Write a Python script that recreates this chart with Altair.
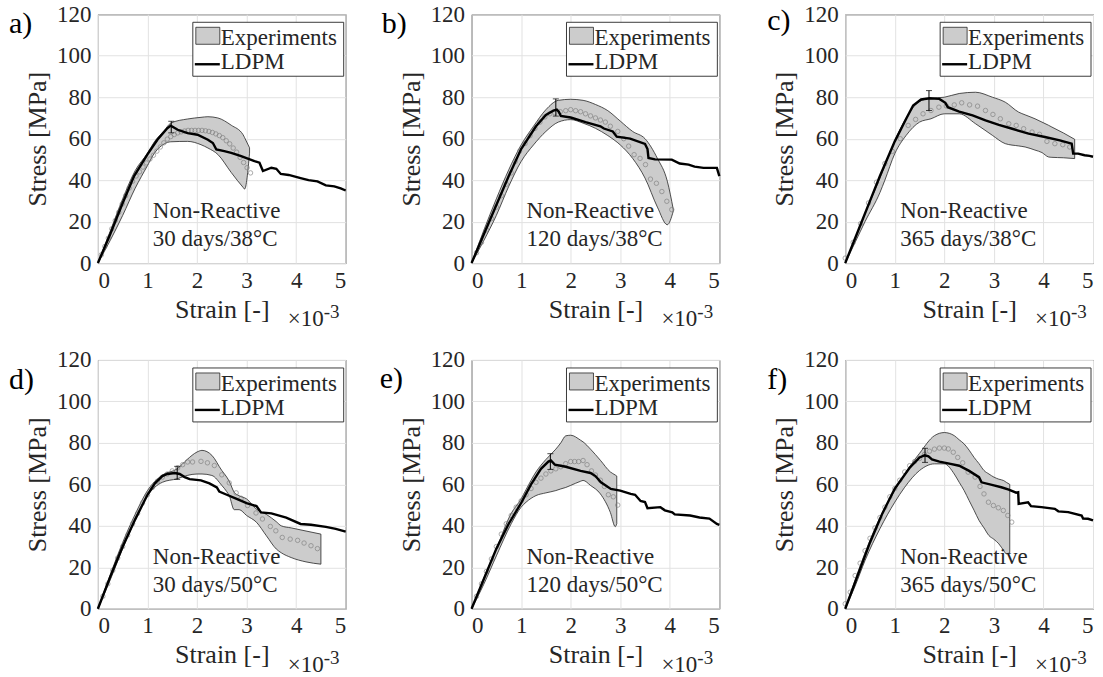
import altair as alt
import pandas as pd

# ---------------- data (strain in 1e-3, stress in MPa) ----------------
STRAIN_TICKS = [0, 1, 2, 3, 4, 5]
STRESS_TICKS = [0, 20, 40, 60, 80, 100, 120]
PANEL_LABELS = ["a)", "b)", "c)", "d)", "e)", "f)"]
CONDITION_HEAD = "Non-Reactive"
CONDITIONS = ["30 days/38\u00b0C", "120 days/38\u00b0C", "365 days/38\u00b0C",
              "30 days/50\u00b0C", "120 days/50\u00b0C", "365 days/50\u00b0C"]
LEGEND_LABELS = ["Experiments", "LDPM"]
X_TITLE = "Strain [-]"
Y_TITLE = "Stress [MPa]"
EXP_BASE = "\u00d710"
EXP_POWER = "-3"

# experimental envelope: (strain, lower, upper)
A_BAND = [(0, 0, 0), (0.25, 11, 15.5), (0.5, 23, 31), (0.75, 36, 44.5), (1.0, 47, 53),
          (1.14, 53, 58.5), (1.34, 57.5, 64), (1.47, 58.5, 67.5), (1.81, 58.7, 69.5),
          (2.08, 57.1, 70.3), (2.22, 55.5, 70.6), (2.42, 52.4, 70), (2.69, 43.7, 66.5),
          (2.93, 36.5, 61.9), (2.96, 35.7, 60.5), (3.06, 53, 55.6)]
A_MEAN = [(0.07, 4), (0.14, 8), (0.21, 12), (0.28, 16.5), (0.35, 20.5), (0.42, 24.5),
          (0.49, 28.5), (0.56, 32.5), (0.63, 36.2), (0.70, 39.5), (0.77, 42), (0.84, 44),
          (0.91, 46.3), (0.98, 48.3), (1.05, 50.2), (1.12, 52), (1.19, 54), (1.26, 56),
          (1.33, 58), (1.40, 59.8), (1.47, 61), (1.54, 62), (1.61, 62.8), (1.68, 63.3),
          (1.75, 63.7), (1.82, 64), (1.89, 64), (1.96, 64), (2.03, 64), (2.10, 64),
          (2.17, 63.8), (2.24, 63.5), (2.31, 63), (2.38, 62.3), (2.45, 61.5), (2.52, 60.5),
          (2.59, 59), (2.66, 57.5), (2.73, 55.5), (2.80, 53.5), (2.87, 51), (2.94, 48.5),
          (3.01, 46), (3.08, 43.5)]
A_LDPM = [(0, 0), (0.25, 14), (0.5, 29), (0.73, 42), (1.0, 52.4), (1.2, 59.5), (1.4, 65),
          (1.47, 66.3), (1.61, 64.3), (1.81, 62.7), (2.01, 61.9), (2.22, 59.5), (2.32, 57.9),
          (2.39, 54.8), (2.55, 54), (2.69, 53.2), (2.89, 51.6), (3.16, 49.2), (3.26, 48.4),
          (3.33, 44.4), (3.5, 46), (3.6, 45.5), (3.69, 43), (3.85, 42.5), (4.09, 41),
          (4.25, 40), (4.43, 39.4), (4.6, 37.5), (4.77, 37), (4.9, 36), (5.0, 35)]
A_ERR = (1.48, 62.8, 68.4)

B_BAND = [(0, 0, 0), (0.25, 11, 16), (0.5, 23, 31), (0.75, 37, 45), (1.0, 49, 57),
          (1.25, 57, 66), (1.5, 63.5, 74), (1.75, 68, 78.5), (2.0, 69.2, 79), (2.25, 67.5, 78.5),
          (2.5, 65, 76.5), (2.75, 61.5, 73.5), (3.0, 57, 68.5), (3.25, 50.5, 63.5),
          (3.5, 41, 60), (3.75, 27, 50.5), (3.95, 18.5, 39.5), (4.07, 25, 26)]
B_MEAN = [(0.1, 5), (0.2, 10), (0.3, 16), (0.4, 21.5), (0.5, 27), (0.6, 32.5), (0.7, 38),
          (0.8, 43.5), (0.88, 49), (0.97, 54), (1.08, 57.7), (1.18, 61.5), (1.28, 65),
          (1.38, 68), (1.48, 70.5), (1.58, 72), (1.68, 72.5), (1.79, 73), (1.9, 73.5),
          (2.0, 74), (2.1, 73.5), (2.2, 73), (2.3, 72), (2.4, 71), (2.5, 70), (2.6, 69),
          (2.7, 68), (2.8, 66), (2.95, 63.5), (3.07, 60), (3.17, 56.4), (3.28, 52.3),
          (3.4, 50.5), (3.51, 47.5), (3.61, 40.5), (3.73, 38.5), (3.84, 34.5), (3.94, 29.8),
          (4.04, 25.8)]
B_LDPM = [(0, 0), (0.25, 14), (0.5, 28), (0.75, 42), (1.0, 55), (1.3, 66), (1.5, 71.5),
          (1.65, 73.5), (1.72, 74), (1.76, 73), (1.8, 71), (2.0, 70.2), (2.3, 68), (2.6, 66),
          (2.67, 64.9), (2.85, 63.5), (2.93, 61), (3.2, 60), (3.5, 57.5), (3.55, 55),
          (3.57, 50.7), (3.7, 50), (4.04, 49.9), (4.2, 48), (4.38, 47.5), (4.5, 46.5),
          (4.68, 45.9), (4.95, 45.9), (5.0, 41.9)]
B_ERR = (1.70, 70.9, 79.2)

C_BAND = [(0, 0, 0), (0.2, 10, 12), (0.4, 20, 24), (0.7, 34, 41), (0.8, 40, 47),
          (1.0, 52.8, 59), (1.23, 61.6, 70), (1.5, 68, 78), (1.73, 69.6, 79.5), (2.0, 72, 80),
          (2.3, 72, 81.8), (2.63, 67.2, 82.4), (2.97, 61.6, 80), (3.23, 57.6, 77.6),
          (3.5, 56.5, 72.8), (3.63, 56, 71.5), (3.83, 54.5, 69.6), (3.97, 53.3, 68),
          (4.1, 51.2, 66.5), (4.17, 51, 65.6), (4.4, 50.8, 62.8), (4.63, 50.4, 59.7)]
C_MEAN = [(0, 2.4), (0.16, 10), (0.31, 19), (0.47, 29), (0.63, 39), (0.8, 48), (0.95, 53.9),
          (1.11, 60), (1.27, 66.4), (1.42, 69.3), (1.57, 72), (1.73, 73.6), (1.89, 75.2),
          (2.04, 75.8), (2.2, 76.3), (2.35, 77.3), (2.51, 76.3), (2.67, 75.7), (2.83, 73.6),
          (2.98, 71.7), (3.13, 69.6), (3.3, 67.2), (3.45, 66.4), (3.6, 64.8), (3.77, 63.2),
          (3.92, 62.1), (4.07, 58.7), (4.23, 57.6), (4.39, 57.1), (4.53, 56)]
C_LDPM = [(0, 0), (0.25, 15), (0.5, 30), (0.7, 42), (1.0, 58.7), (1.23, 69.6), (1.37, 76),
          (1.53, 78.9), (1.7, 79.5), (1.9, 79.2), (2.02, 77.3), (2.07, 75.2), (2.3, 73.1),
          (2.57, 71.2), (2.83, 68.8), (3.1, 66.7), (3.37, 64.8), (3.7, 62.4), (4.03, 60.8),
          (4.33, 59.2), (4.57, 57.6), (4.6, 52.8), (4.7, 52.8), (4.83, 52), (4.93, 51.7),
          (5.0, 51.3)]
C_ERR = (1.69, 73.6, 83.2)

D_BAND = [(0, 0, 0), (0.25, 14, 16.5), (0.5, 29, 32), (0.75, 42.5, 45.5), (1.0, 54.5, 57),
          (1.3, 61, 64.5), (1.6, 62.7, 67.5), (1.8, 64.3, 72), (2.0, 65, 75.6), (2.1, 65, 76.4),
          (2.3, 64.3, 74), (2.5, 59.5, 66.7), (2.6, 56.5, 63.5), (2.65, 54.6, 61.5),
          (2.75, 47.8, 56.2), (2.85, 47.8, 54.5), (3.0, 45, 53), (3.2, 41.7, 48),
          (3.4, 35.2, 45.5), (3.6, 28.8, 42), (3.7, 27, 40), (3.9, 24.7, 39), (4.2, 22.6, 37.5),
          (4.5, 21.5, 36)]
D_MEAN = [(0.1, 6), (0.2, 12), (0.3, 18.5), (0.4, 24.5), (0.5, 30), (0.6, 35.5), (0.7, 41),
          (0.8, 46), (0.9, 51), (1.0, 55), (1.1, 58.5), (1.2, 61.5), (1.3, 63.5), (1.4, 65),
          (1.5, 66.5), (1.61, 68), (1.71, 69.5), (1.81, 70.8), (1.91, 70.8), (2.08, 71.1),
          (2.21, 70.4), (2.35, 69.1), (2.5, 64.6), (2.65, 60.7), (2.79, 55.9), (2.89, 53.3),
          (3.02, 49.8), (3.19, 46.2), (3.32, 43.3), (3.48, 39.7), (3.59, 37.6), (3.72, 34.4),
          (3.88, 33.6), (4.03, 33), (4.16, 31.7), (4.3, 30.4), (4.43, 29)]
D_LDPM = [(0, 0), (0.25, 15.5), (0.5, 30), (0.75, 43), (1.0, 55), (1.15, 60.5), (1.3, 64),
          (1.4, 65), (1.55, 65.5), (1.65, 65), (1.75, 63.5), (1.85, 62.5), (2.08, 61.9),
          (2.25, 60.5), (2.4, 58.5), (2.45, 56.5), (2.6, 55), (2.8, 53), (3.0, 51), (3.2, 49.5),
          (3.29, 46.5), (3.5, 46), (3.8, 44), (4.09, 40.9), (4.3, 40.5), (4.6, 39.5),
          (4.8, 38.5), (5.0, 37.2)]
D_ERR = (1.60, 62.4, 68.7)

E_BAND = [(0, 0, 0), (0.25, 12, 15), (0.5, 25.5, 29), (0.8, 41, 46), (1.0, 49, 53),
          (1.1, 51.4, 57.5), (1.3, 54.6, 66), (1.5, 55.9, 72), (1.7, 57, 77), (1.8, 57.8, 80),
          (1.9, 58.5, 83.4), (2.0, 59.5, 83.7), (2.2, 61.5, 81.3), (2.25, 61.9, 80.5),
          (2.4, 59.5, 77), (2.6, 55.4, 71.6), (2.8, 46.5, 66), (2.9, 39.6, 64.5), (2.93, 41, 64)]
E_MEAN = [(0.1, 6), (0.2, 12), (0.3, 18), (0.4, 24), (0.5, 30), (0.6, 36), (0.7, 41),
          (0.8, 45), (0.9, 49), (1.0, 52), (1.1, 55), (1.2, 58), (1.3, 61), (1.4, 63),
          (1.5, 65), (1.6, 66.5), (1.7, 67.5), (1.8, 68.5), (1.9, 70), (2.0, 71), (2.08, 71),
          (2.16, 71), (2.25, 71.5), (2.33, 69.5), (2.42, 66.5), (2.5, 64.5), (2.6, 62),
          (2.68, 59), (2.76, 55), (2.86, 54), (2.95, 50)]
E_LDPM = [(0, 0), (0.25, 14.5), (0.5, 29), (0.75, 41), (1.0, 51), (1.2, 60), (1.4, 67.5),
          (1.55, 71), (1.6, 71.5), (1.68, 69.5), (1.9, 68.5), (2.2, 66.5), (2.4, 65.5),
          (2.5, 64), (2.61, 61), (2.81, 57.8), (3.0, 57), (3.21, 55.4), (3.3, 55), (3.41, 52),
          (3.5, 51.5), (3.55, 48.5), (3.81, 49), (3.9, 47.5), (4.05, 46.5), (4.1, 45.5),
          (4.41, 45), (4.6, 44), (4.8, 43.5), (4.95, 40.9), (5.0, 40.5)]
E_ERR = (1.59, 67.2, 74.8)

F_BAND = [(0, 0, 0), (0.2, 11, 14), (0.4, 23.3, 27), (0.7, 38.6, 44), (1.0, 51.4, 57),
          (1.2, 58.6, 65), (1.5, 66.7, 75), (1.8, 69.9, 83.5), (2.0, 69.9, 85), (2.2, 65, 83.5),
          (2.3, 61, 81.5), (2.4, 57, 79.5), (2.5, 52.2, 76.5), (2.6, 47.5, 73), (2.7, 42.6, 70),
          (2.8, 39, 66.7), (2.9, 35.3, 65), (3.0, 33.5, 63.5), (3.1, 31.3, 62.5),
          (3.2, 28, 61.8), (3.25, 26.5, 61), (3.32, 27, 60)]
F_MEAN = [(0, 2.4), (0.1, 8), (0.2, 16), (0.3, 22), (0.4, 28), (0.5, 34), (0.6, 39), (0.7, 44),
          (0.8, 49), (0.9, 54), (1.0, 58), (1.1, 62), (1.2, 66), (1.3, 69), (1.4, 71),
          (1.5, 72.5), (1.6, 74.5), (1.7, 76), (1.8, 77), (1.9, 77.5), (2.0, 77.5),
          (2.08, 77.1), (2.18, 75.5), (2.27, 73), (2.37, 70.4), (2.48, 65.9), (2.62, 63.5),
          (2.72, 59), (2.8, 55.4), (2.89, 51.4), (2.99, 49.8), (3.09, 48.7), (3.19, 47.4),
          (3.28, 45), (3.36, 41.8)]
F_LDPM = [(0, 0), (0.25, 16), (0.5, 32), (0.75, 46), (1.0, 58), (1.3, 68), (1.5, 73),
          (1.6, 74), (1.68, 73.5), (1.75, 72), (1.9, 71), (2.1, 70), (2.3, 69), (2.5, 66.5),
          (2.7, 63.5), (2.75, 61), (3.0, 59.5), (3.15, 58.6), (3.3, 57.5), (3.45, 56),
          (3.49, 56.2), (3.5, 50.6), (3.69, 51.4), (3.75, 49.5), (3.96, 49), (4.23, 48.2),
          (4.3, 47), (4.5, 46.6), (4.77, 45), (4.8, 43.5), (4.9, 43.4), (5.0, 42.6)]
F_ERR = (1.61, 70.6, 77.4)

BANDS = [A_BAND, B_BAND, C_BAND, D_BAND, E_BAND, F_BAND]
MEANS = [A_MEAN, B_MEAN, C_MEAN, D_MEAN, E_MEAN, F_MEAN]
LDPMS = [A_LDPM, B_LDPM, C_LDPM, D_LDPM, E_LDPM, F_LDPM]
ERRS = [A_ERR, B_ERR, C_ERR, D_ERR, E_ERR, F_ERR]

# ---------------- style / layout ----------------
W, H = 248, 249
FONT = "Liberation Serif"
INK = "#262626"
BAND_FILL = "#cccccc"
LABEL_POS = [(-89, 19), (-90, 19), (-78, 16), (-89, 29), (-92, 28), (-78, 29)]

x_scale = alt.Scale(domain=[0, 5], nice=False)
y_scale = alt.Scale(domain=[0, 120], nice=False)
x_axis = alt.Axis(values=STRAIN_TICKS, title=X_TITLE, format="d")
y_axis = alt.Axis(values=STRESS_TICKS, title=Y_TITLE, format="d")


def panel(i):
    band = pd.DataFrame(BANDS[i], columns=["strain", "lo", "hi"])
    mean = pd.DataFrame(MEANS[i], columns=["strain", "stress"])
    ldpm = pd.DataFrame(LDPMS[i], columns=["strain", "stress"])
    e = ERRS[i]
    err = pd.DataFrame([e], columns=["strain", "lo", "hi"])
    caps = pd.DataFrame({"strain": [e[0], e[0]], "stress": [e[1], e[2]]})
    one = pd.DataFrame({"k": [0]})

    X = alt.X("strain:Q", scale=x_scale, axis=x_axis)
    Yq = alt.Y("stress:Q", scale=y_scale, axis=y_axis)

    band_l = alt.Chart(band).mark_area(
        fill=BAND_FILL, stroke=INK, strokeWidth=0.8, interpolate="monotone"
    ).encode(x=X, y=alt.Y("lo:Q", scale=y_scale, axis=y_axis), y2="hi:Q")
    mean_l = alt.Chart(mean).mark_point(
        shape="circle", filled=False, size=20, stroke="#7a7a7a", strokeWidth=0.9
    ).encode(x=X, y=Yq)
    ldpm_l = alt.Chart(ldpm).mark_line(color="black", strokeWidth=2.4).encode(x=X, y=Yq)
    err_l = alt.Chart(err).mark_rule(color="black", strokeWidth=1).encode(
        x=X, y=alt.Y("lo:Q", scale=y_scale, axis=y_axis), y2="hi:Q")
    cap_l = alt.Chart(caps).mark_tick(
        orient="horizontal", color="black", size=6, thickness=1).encode(x=X, y=Yq)

    annot = alt.Chart(one).mark_text(
        font=FONT, fontSize=23, align="left", baseline="alphabetic", color=INK, lineHeight=28
    ).encode(x=alt.value(55), y=alt.value(204),
             text=alt.value([CONDITION_HEAD, CONDITIONS[i]]))

    leg_box = alt.Chart(one).mark_rect(fill="white", stroke=INK, strokeWidth=0.9).encode(
        x=alt.value(95), x2=alt.value(246), y=alt.value(8), y2=alt.value(62))
    leg_sw = alt.Chart(one).mark_rect(fill=BAND_FILL, stroke=INK, strokeWidth=0.8).encode(
        x=alt.value(98), x2=alt.value(122), y=alt.value(13), y2=alt.value(30))
    leg_ln = alt.Chart(one).mark_rule(color="black", strokeWidth=2.4).encode(
        x=alt.value(97), x2=alt.value(122), y=alt.value(50))
    leg_t1 = alt.Chart(one).mark_text(
        font=FONT, fontSize=23, align="left", baseline="alphabetic", color=INK
    ).encode(x=alt.value(123), y=alt.value(31), text=alt.value(LEGEND_LABELS[0]))
    leg_t2 = alt.Chart(one).mark_text(
        font=FONT, fontSize=23, align="left", baseline="alphabetic", color=INK
    ).encode(x=alt.value(123), y=alt.value(55), text=alt.value(LEGEND_LABELS[1]))

    lx, ly = LABEL_POS[i]
    plabel = alt.Chart(one).mark_text(
        font=FONT, fontSize=30, align="left", baseline="alphabetic", color="black"
    ).encode(x=alt.value(lx), y=alt.value(ly), text=alt.value(PANEL_LABELS[i]))

    exp1 = alt.Chart(one).mark_text(
        font=FONT, fontSize=23, align="left", baseline="alphabetic", color=INK
    ).encode(x=alt.value(190), y=alt.value(H + 63), text=alt.value(EXP_BASE))
    exp2 = alt.Chart(one).mark_text(
        font=FONT, fontSize=19, align="left", baseline="alphabetic", color=INK
    ).encode(x=alt.value(226), y=alt.value(H + 55), text=alt.value(EXP_POWER))

    return alt.layer(band_l, mean_l, ldpm_l, err_l, cap_l, annot,
                     leg_box, leg_sw, leg_ln, leg_t1, leg_t2, plabel, exp1, exp2
                     ).properties(width=W, height=H)


chart = alt.concat(
    *[panel(i) for i in range(6)], columns=3,
    spacing={"row": 97, "column": 126}, bounds="flush"
).properties(
    padding={"left": 8, "top": 2, "right": 4, "bottom": 4}
).configure_axis(
    labelFont=FONT, labelFontSize=23, labelColor=INK,
    titleFont=FONT, titleFontSize=26, titleFontWeight="normal", titleColor=INK,
    gridColor="#e2e2e2", gridWidth=1, domain=False, tickSize=0,
).configure_axisX(
    labelPadding=6, titlePadding=4
).configure_axisY(
    labelPadding=7, titlePadding=6
).configure_view(
    stroke=INK, strokeWidth=1
).configure_text(font=FONT)

chart.save("out.html", embed_options={"renderer": "svg", "actions": False})
